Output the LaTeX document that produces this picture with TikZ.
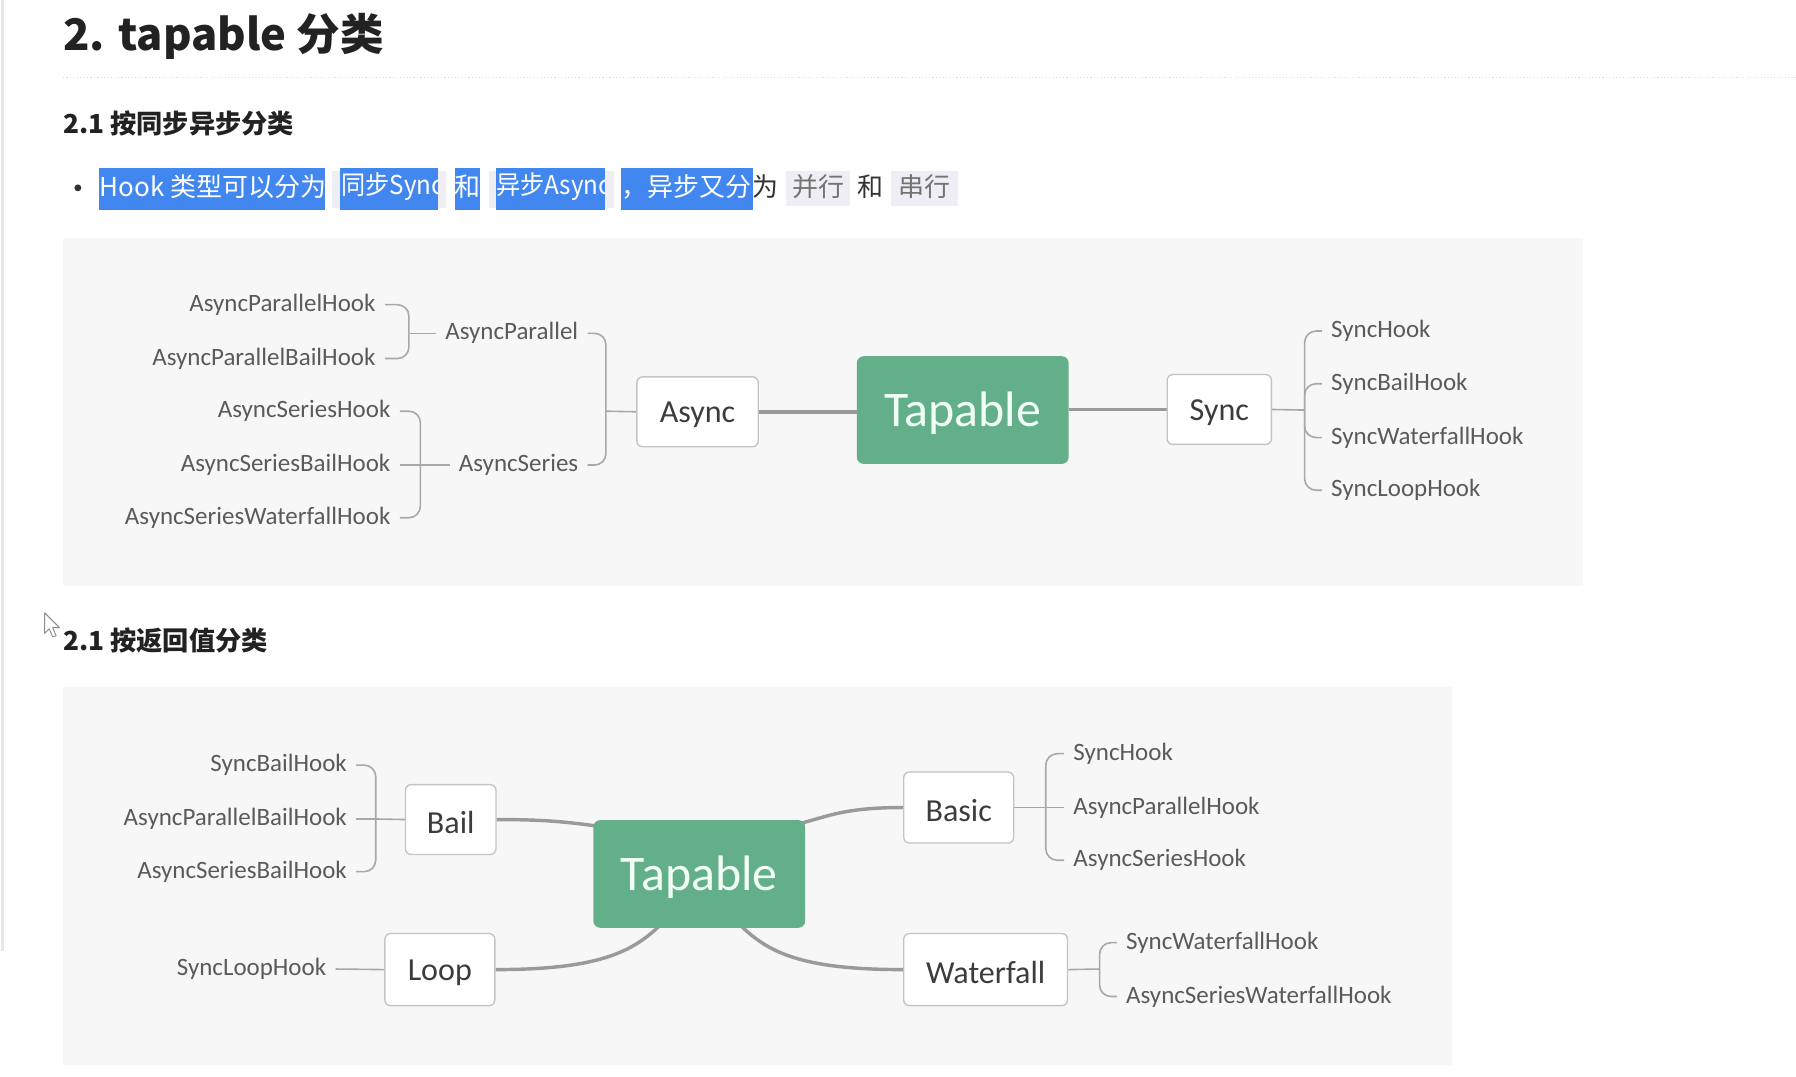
\documentclass[tikz,border=0pt]{standalone}
\usepackage{fontspec}
\setmainfont{Noto Sans CJK SC}
\newfontfamily\mapfont{Carlito}
\usetikzlibrary{calc}
\definecolor{greenc}{HTML}{62AF8A}
\definecolor{roottext}{HTML}{F2FFF6}
\definecolor{boxc}{HTML}{C4C4C4}
\definecolor{nodec}{HTML}{3C3C3C}
\definecolor{hookc}{HTML}{5A5A5A}
\definecolor{connc}{HTML}{9A9A9A}
\definecolor{brc}{HTML}{A8A8A8}
\definecolor{panelc}{HTML}{F7F7F7}
\definecolor{selc}{HTML}{4287F0}
\definecolor{codec}{HTML}{EFEEF4}
\definecolor{headc}{HTML}{222222}
\definecolor{textc}{HTML}{333333}
\newcommand{\dnshift}[1]{\raisebox{-2.5pt}[\height][\depth]{#1}}
\pgfdeclarelayer{panel}
\pgfdeclarelayer{links}
\pgfsetlayers{panel,links,main}
\tikzset{
  mapbox/.style={draw=boxc, fill=white, rounded corners=5pt, line width=1.2pt,
    font=\mapfont\fontsize{28}{30}\selectfont, text=nodec, minimum height=61pt, inner sep=0pt},
  rootbox/.style={fill=greenc, rounded corners=6pt, minimum width=185pt, minimum height=94pt,
    font=\mapfont\fontsize{43.5}{46}\selectfont, text=roottext, inner sep=0pt},
  hook/.style={font=\mapfont\fontsize{21.8}{24}\selectfont, text=hookc, inner xsep=8pt, inner ysep=2pt},
  conn/.style={draw=connc, line width=3pt},
  brl/.style={draw=brc, line width=1.4pt, rounded corners=10pt},
  doctext/.style={inner sep=0pt, anchor=west, font=\fontsize{22.7}{26}\selectfont},
  headtext/.style={inner sep=0pt, anchor=west, text=headc},
}
\begin{document}
\begin{tikzpicture}[x=1pt,y=-1pt]
\useasboundingbox (0,0) rectangle (1568,940);
\begin{pgfonlayer}{panel}
\fill[white] (0,0) rectangle (1568,940);
\fill[panelc] (55,208) rectangle (1382,512);
\fill[panelc] (55,600) rectangle (1268,930);
\end{pgfonlayer}
% sidebar edge
\draw[draw=black!9, line width=3pt] (2,0) -- (2,830);
% title
\node[headtext, font=\bfseries\fontsize{38}{42}\selectfont] (title) at (55,32) {2. tapable 分类};
\draw[draw=black!13, line width=1pt, dotted] (55,68) -- (1568,68);
\node[headtext, font=\bfseries\fontsize{22.9}{26}\selectfont] (h1) at (55,108) {2.1 按同步异步分类};
% bullet line
\fill[textc] (68,164) circle (3pt);
\fill[codec] (290,149) rectangle (389,182);
\fill[codec] (427,149) rectangle (536,182);
\fill[codec] (686,149) rectangle (742,180);
\fill[codec] (778,149) rectangle (836,180);
\fill[selc] (86,147) rectangle (284,183);
\fill[selc] (297,147) rectangle (382,183);
\fill[selc] (397,147) rectangle (419,183);
\fill[selc] (433,147) rectangle (528,183);
\fill[selc] (542,147) rectangle (657,183);
\node[doctext, text=white] (t1) at (87,163) {Hook 类型可以分为};
\begin{scope}
\clip (297,147) rectangle (382,183);
\node[doctext, text=white] (t2) at (298,163) {\scalebox{0.93}[1]{同步Sync}};
\end{scope}
\node[doctext, text=white] (t3) at (397,163) {和};
\begin{scope}
\clip (433,147) rectangle (528,183);
\node[doctext, text=white] (t4) at (433,163) {\scalebox{0.93}[1]{异步Async}};
\end{scope}
\node[doctext, text=white] (t5) at (542,163) {，异步又分};
\node[doctext, text=textc] (t6) at (657,163) {为};
\node[doctext, text=black!55] (t7) at (692,163) {并行};
\node[doctext, text=textc] (t8) at (748,163) {和};
\node[doctext, text=black!55] (t9) at (784,163) {串行};
% cursor
\draw[draw=black!45, fill=white, line width=0.8pt, line join=round]
  (39,535) -- (39,553) -- (43,549) -- (46,556) -- (49,555) -- (46,548) -- (52,548) -- cycle;
\node[headtext, font=\bfseries\fontsize{22.9}{26}\selectfont] (h2) at (55,559) {2.1 按返回值分类};

%%%%% top mind map
\node[rootbox] (T1) at (840.5,358) {\dnshift{Tapable}};
\node[mapbox, minimum width=106pt] (Async) at (609,359.5) {\dnshift{Async}};
\node[mapbox, minimum width=91pt] (Sync) at (1064.5,357.5) {\dnshift{Sync}};
\node[hook, anchor=east] (ap) at (513,291) {AsyncParallel};
\node[hook, anchor=east] (as) at (513,406) {AsyncSeries};
\node[hook, anchor=east] (aph) at (336,266) {AsyncParallelHook};
\node[hook, anchor=east] (apbh) at (336,313) {AsyncParallelBailHook};
\node[hook, anchor=east] (ash) at (349,359) {AsyncSeriesHook};
\node[hook, anchor=east] (asbh) at (349,406) {AsyncSeriesBailHook};
\node[hook, anchor=east] (aswh) at (349,452) {AsyncSeriesWaterfallHook};
\node[hook, anchor=west] (sh) at (1154,289) {SyncHook};
\node[hook, anchor=west] (sbh) at (1154,335) {SyncBailHook};
\node[hook, anchor=west] (swh) at (1154,382) {SyncWaterfallHook};
\node[hook, anchor=west] (slh) at (1154,428) {SyncLoopHook};
\coordinate (B1) at (529,359);
\coordinate (B2) at (357,291);
\coordinate (B3) at (367,406);
\coordinate (B4) at (1139,358);

%%%%% bottom mind map
\node[rootbox] (T2) at (610.5,763) {\dnshift{Tapable}};
\node[mapbox, minimum width=79pt] (Bail) at (393.5,715.5) {\dnshift{Bail}};
\node[mapbox, minimum width=96pt, minimum height=63pt] (Loop) at (384,846.5) {\dnshift{Loop}};
\node[mapbox, minimum width=96pt, minimum height=62pt] (Basic) at (837,705) {\dnshift{Basic}};
\node[mapbox, minimum width=143pt, minimum height=63pt] (Waterfall) at (860.5,846.5) {\dnshift{Waterfall}};
\node[hook, anchor=east] (bsbh) at (311,668) {SyncBailHook};
\node[hook, anchor=east] (bapbh) at (311,715) {AsyncParallelBailHook};
\node[hook, anchor=east] (basbh) at (311,761) {AsyncSeriesBailHook};
\node[hook, anchor=east] (bslh) at (293,846) {SyncLoopHook};
\node[hook, anchor=west] (bsh) at (929,658) {SyncHook};
\node[hook, anchor=west] (baph) at (929,705) {AsyncParallelHook};
\node[hook, anchor=west] (bash) at (929,751) {AsyncSeriesHook};
\node[hook, anchor=west] (bswh) at (975,823) {SyncWaterfallHook};
\node[hook, anchor=west] (baswh) at (975,870) {AsyncSeriesWaterfallHook};
\coordinate (B5) at (328,715);
\coordinate (B6) at (913,705);
\coordinate (B7) at (960,846);

\begin{pgfonlayer}{links}
% top
\draw[conn] (T1.west |- Async.east) -- (Async.east);
\draw[conn] (T1.east |- Sync.west) -- (Sync.west);
\draw[brl] (Async.west) -- (B1);
\draw[brl] (B1) |- (ap.east);
\draw[brl] (B1) |- (as.east);
\draw[brl] (ap.west) -- (B2);
\draw[brl] (B2) |- (aph.east);
\draw[brl] (B2) |- (apbh.east);
\draw[brl] (as.west) -- (B3);
\draw[brl] (B3) |- (ash.east);
\draw[brl] (B3) -- (asbh.east);
\draw[brl] (B3) |- (aswh.east);
\draw[brl] (Sync.east) -- (B4);
\draw[brl] (B4) |- (sh.west);
\draw[brl] (B4) |- (sbh.west);
\draw[brl] (B4) |- (swh.west);
\draw[brl] (B4) |- (slh.west);
% bottom
\draw[conn] (Bail.east) .. controls +(45,0) and +(-30,-4) .. ($(T2.north west)+(8,6)$);
\draw[conn] (Basic.west) .. controls +(-55,0) and +(30,-7) .. ($(T2.north east)+(-12,5)$);
\draw[conn] (Loop.east) .. controls +(90,0) and +(-25,25) .. ($(T2.south west)+(60,-4)$);
\draw[conn] (Waterfall.west) .. controls +(-90,0) and +(25,25) .. ($(T2.south west)+(127,-4)$);
\draw[brl] (Bail.west) -- (B5);
\draw[brl] (B5) |- (bsbh.east);
\draw[brl] (B5) -- (bapbh.east);
\draw[brl] (B5) |- (basbh.east);
\draw[brl] (Loop.west) -- (bslh.east);
\draw[brl] (Basic.east) -- (B6);
\draw[brl] (B6) |- (bsh.west);
\draw[brl] (B6) -- (baph.west);
\draw[brl] (B6) |- (bash.west);
\draw[brl] (Waterfall.east) -- (B7);
\draw[brl] (B7) |- (bswh.west);
\draw[brl] (B7) |- (baswh.west);
\end{pgfonlayer}
\end{tikzpicture}
\end{document}
